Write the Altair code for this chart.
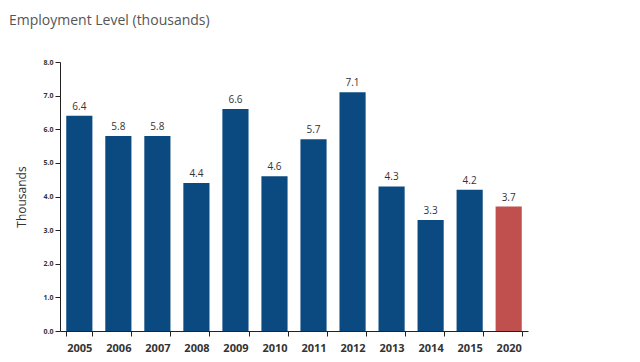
import altair as alt
import pandas as pd

years = ["2005", "2006", "2007", "2008", "2009", "2010", "2011", "2012", "2013", "2014", "2015", "2020"]
values = [6.4, 5.8, 5.8, 4.4, 6.6, 4.6, 5.7, 7.1, 4.3, 3.3, 4.2, 3.7]
kinds = ["actual"] * 11 + ["projected"]

df = pd.DataFrame({"year": years, "value": values, "kind": kinds})

base = alt.Chart(df).encode(
    x=alt.X("year:N", sort=years, title=None,
            scale=alt.Scale(paddingInner=0.33, paddingOuter=0.16),
            axis=alt.Axis(labelAngle=0, labelFont="Open Sans", labelFontSize=11,
                          labelFontWeight="bold", labelColor="#333333",
                          domainColor="#222222", tickColor="#222222",
                          tickBand="extent", tickSize=5, labelPadding=6)),
    y=alt.Y("value:Q", title="Thousands",
            scale=alt.Scale(domain=[0, 8], nice=False),
            axis=alt.Axis(values=[0, 1, 2, 3, 4, 5, 6, 7, 8], format=".1f",
                          labelFont="Open Sans", labelFontSize=7, labelFontWeight="bold",
                          labelColor="#333333", domainColor="#222222", tickColor="#222222",
                          tickSize=5, grid=False, titleFont="Open Sans", titleFontSize=12,
                          titleFontWeight="normal", titleColor="#333333", titlePadding=14)),
)

bars = base.mark_bar().encode(
    color=alt.Color("kind:N", scale=alt.Scale(domain=["actual", "projected"],
                                              range=["#0B4A80", "#C0504D"]), legend=None)
)

labels = base.mark_text(dy=-9, font="Open Sans", fontSize=10, color="#333333").encode(
    text=alt.Text("value:Q", format=".1f")
)

chart = (bars + labels).properties(
    width=468, height=269,
    autosize=alt.AutoSizeParams(type="none"),
    padding={"left": 52, "top": 54, "right": 104, "bottom": 23},
    title=alt.Title("Employment Level (thousands)", anchor="start", frame="bounds",
                    font="Open Sans", fontSize=14, fontWeight="normal", color="#555555",
                    offset=30, dx=-7),
).configure_view(stroke=None)

chart.save("out.html", embed_options={"renderer": "svg", "actions": False})
